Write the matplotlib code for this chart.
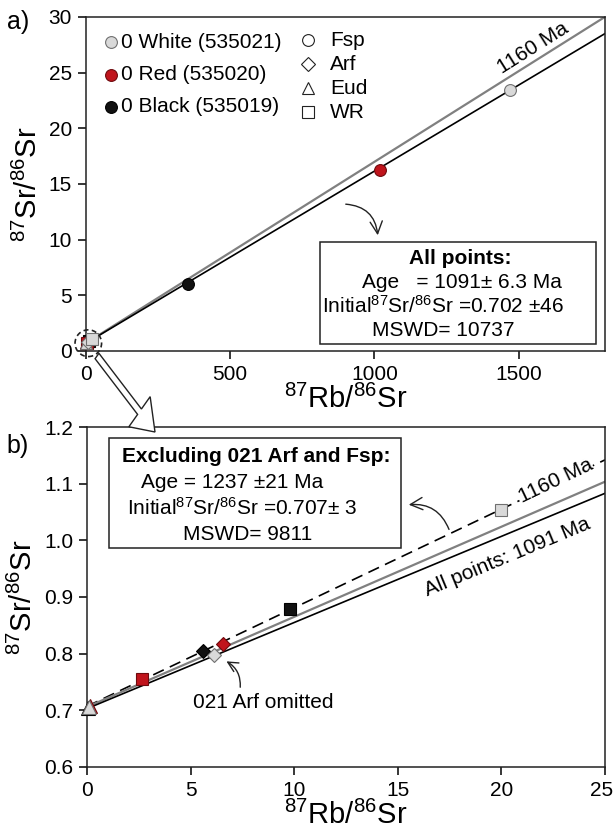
import numpy as np
import matplotlib
matplotlib.use("Agg")
import matplotlib.pyplot as plt
import matplotlib.transforms as mtransforms
from matplotlib.lines import Line2D
from matplotlib.patches import Rectangle, Ellipse, FancyArrow

plt.rcParams['font.family'] = ['Liberation Sans', 'DejaVu Sans']
plt.rcParams['mathtext.fontset'] = 'custom'
plt.rcParams['mathtext.rm'] = 'Liberation Sans'
plt.rcParams['mathtext.bf'] = 'Liberation Sans:bold'
plt.rcParams['mathtext.default'] = 'regular'

# samples and minerals
samples = ['0 White (535021)', '0 Red (535020)', '0 Black (535019)']
minerals = ['Fsp', 'Arf', 'Eud', 'WR']
face = {'white': '#d9d9d9', 'red': '#c0141c', 'black': '#111111'}
edge = {'white': '#707070', 'red': '#6e0a0e', 'black': '#000000'}

# 87Rb/86Sr, 87Sr/86Sr
fsp_x = {'white': 1470, 'red': 1020, 'black': 355}
fsp_y = {'white': 23.4, 'red': 16.3, 'black': 6.0}
arf_x = {'white': 6.15, 'red': 6.55, 'black': 5.6}
arf_y = {'white': 0.798, 'red': 0.817, 'black': 0.804}
eud_x = {'white': 0.1, 'red': 0.16, 'black': 0.05}
eud_y = {'white': 0.706, 'red': 0.708, 'black': 0.705}
wr_x = {'white': 20.0, 'red': 2.65, 'black': 9.8}
wr_y = {'white': 1.054, 'red': 0.756, 'black': 0.878}

# reference lines: intercept, slope
line_a_1160 = (0.707, 0.01628)
line_a_1091 = (0.702, 0.01545)
line_b_1237 = (0.707, 0.0174)
line_b_1160 = (0.706, 0.0159)
line_b_1091 = (0.703, 0.0152)

W, H = 614, 836
def fx(p): return p / W
def fy(p): return 1 - p / H

FS = 15

fig = plt.figure(figsize=(W / 100, H / 100), dpi=100)
ax1 = fig.add_axes([fx(86), fy(351), (605 - 86) / W, (351 - 17) / H])
ax2 = fig.add_axes([fx(87), fy(767), (605 - 87) / W, (767 - 427) / H])

for ax in (ax1, ax2):
    for s in ax.spines.values():
        s.set_linewidth(1.1)
        s.set_color('#222222')
    ax.tick_params(direction='out', length=6, width=1.1, labelsize=FS, pad=4)

order = ['black', 'red', 'white']

# ---------- panel a ----------
xx = np.array([0, 1800])
ax1.plot(xx, line_a_1160[0] + line_a_1160[1] * xx, color='#808080', lw=1.6, zorder=2)
ax1.plot(xx, line_a_1091[0] + line_a_1091[1] * xx, color='black', lw=1.2, zorder=2)
for c in order:
    ax1.plot(fsp_x[c], fsp_y[c], 'o', ms=8.5, mfc=face[c], mec=edge[c], mew=0.8, zorder=4)
    ax1.plot(eud_x[c], eud_y[c], '^', ms=9, mfc=face[c], mec=edge[c], mew=0.8, zorder=4, clip_on=False)
    ax1.plot(arf_x[c], arf_y[c], 'D', ms=7, mfc=face[c], mec=edge[c], mew=0.8, zorder=4, clip_on=False)
    ax1.plot(wr_x[c], wr_y[c], 's', ms=8.5, mfc=face[c], mec=edge[c], mew=0.8, zorder=4, clip_on=False)
ax1.set_xlim(0, 1800)
ax1.set_ylim(0, 30)
ax1.set_xticks([0, 500, 1000, 1500])
ax1.set_yticks(range(0, 31, 5))
ax1.add_patch(Ellipse((8, 0.7), 92, 2.4, fill=False, ls=(0, (3, 2)), lw=1.2,
                      color='#222222', clip_on=False, zorder=5))
ax1.text(1550, line_a_1160[0] + line_a_1160[1] * 1550 + 1.3, '1160 Ma', fontsize=FS,
         rotation=np.degrees(np.arctan(line_a_1160[1])), transform_rotates_text=True,
         rotation_mode='anchor', ha='center', va='center')
ax1.set_xlabel(r'$^{87}$Rb/$^{86}$Sr', fontsize=21, labelpad=1)
ax1.set_ylabel(r'$^{87}$Sr/$^{86}$Sr', fontsize=21, labelpad=4)

# legend (hand placed)
for i, c in enumerate(['white', 'red', 'black']):
    y = [42, 75, 107][i]
    fig.add_artist(Line2D([fx(111)], [fy(y)], marker='o', ms=8.5, mfc=face[c], mec=edge[c], mew=0.8))
    fig.text(fx(121), fy(y), samples[i], fontsize=FS, va='center', ha='left')
for i, (m, ms) in enumerate(zip(['o', 'D', '^', 's'], [8.5, 7, 9, 8.5])):
    y = [40, 64, 88, 112][i]
    fig.add_artist(Line2D([fx(308)], [fy(y)], marker=m, ms=ms, mfc='white', mec='#222222', mew=0.8))
    fig.text(fx(330), fy(y), minerals[i], fontsize=FS, va='center', ha='left')

# All points box
fig.add_artist(Rectangle((fx(320), fy(344)), (596 - 320) / W, (344 - 242) / H,
                         fill=False, lw=1.1, ec='#222222'))
fig.text(fx(460), fy(258), 'All points:', fontsize=FS, weight='bold', ha='center', va='center')
fig.text(fx(362), fy(282), 'Age   = 1091\u00b1 6.3 Ma', fontsize=FS, ha='left', va='center')
fig.text(fx(322), fy(306), r'Initial$^{87}$Sr/$^{86}$Sr =0.702 $\pm$46', fontsize=FS, ha='left', va='center')
fig.text(fx(372), fy(330), 'MSWD= 10737', fontsize=FS, ha='left', va='center')
ax1.annotate('', xy=(fx(378), fy(238)), xycoords='figure fraction',
             xytext=(fx(343), fy(204)), textcoords='figure fraction',
             arrowprops=dict(arrowstyle='->', lw=1.0, color='#222222',
                             connectionstyle='arc3,rad=-0.45', mutation_scale=22))

fig.text(fx(18), fy(22), 'a)', fontsize=18, ha='center', va='center')
fig.text(fx(18), fy(446), 'b)', fontsize=18, ha='center', va='center')

# big hollow arrow between panels
fig.add_artist(FancyArrow(fx(97), fy(356), fx(155) - fx(97), fy(432) - fy(356),
                          width=0.009, head_width=0.05, head_length=0.035,
                          length_includes_head=True, fc='white', ec='#222222', lw=1.0))

# ---------- panel b ----------
xb = np.array([0, 25])
ax2.plot(xb, line_b_1237[0] + line_b_1237[1] * xb, color='black', lw=1.2, ls=(0, (7, 4)), zorder=2)
ax2.plot(xb, line_b_1160[0] + line_b_1160[1] * xb, color='#808080', lw=1.6, zorder=2)
ax2.plot(xb, line_b_1091[0] + line_b_1091[1] * xb, color='black', lw=1.2, zorder=2)
for c in order:
    ax2.plot(eud_x[c], eud_y[c], '^', ms=10, mfc=face[c], mec=edge[c], mew=0.8, zorder=4, clip_on=False)
    ax2.plot(arf_x[c], arf_y[c], 'D', ms=7.5, mfc=face[c], mec=edge[c], mew=0.8, zorder=4)
    ax2.plot(wr_x[c], wr_y[c], 's', ms=8.5, mfc=face[c], mec=edge[c], mew=0.8, zorder=4)
ax2.set_xlim(0, 25)
ax2.set_ylim(0.6, 1.2)
ax2.set_xticks(range(0, 26, 5))
ax2.set_yticks(np.arange(0.6, 1.21, 0.1))
ax2.yaxis.set_major_formatter(plt.FormatStrFormatter('%.1f'))
ax2.set_xlabel(r'$^{87}$Rb/$^{86}$Sr', fontsize=21, labelpad=1)
ax2.set_ylabel(r'$^{87}$Sr/$^{86}$Sr', fontsize=21, labelpad=4)

# keep the last tick label inside the figure
lab = ax2.xaxis.get_major_ticks()[-1].label1
lab.set_transform(lab.get_transform() + mtransforms.ScaledTranslation(-3 / 100, 0, fig.dpi_scale_trans))

ax2.text(22.6, line_b_1237[0] + line_b_1237[1] * 22.6 + 0.004, '1160 Ma', fontsize=FS,
         rotation=np.degrees(np.arctan(line_b_1237[1])), transform_rotates_text=True,
         rotation_mode='anchor', ha='center', va='center', zorder=3,
         bbox=dict(fc='white', ec='none', pad=0.5))
ax2.text(20.3, line_b_1091[0] + line_b_1091[1] * 20.3 - 0.042, 'All points: 1091 Ma', fontsize=FS,
         rotation=np.degrees(np.arctan(line_b_1091[1])), transform_rotates_text=True,
         rotation_mode='anchor', ha='center', va='center')

fig.add_artist(Rectangle((fx(109), fy(548)), (401 - 109) / W, (548 - 438) / H,
                         fill=True, fc='white', lw=1.1, ec='#222222'))
fig.text(fx(256), fy(457), 'Excluding 021 Arf and Fsp:', fontsize=FS, weight='bold', ha='center', va='center')
fig.text(fx(141), fy(483), 'Age = 1237 \u00b121 Ma', fontsize=FS, ha='left', va='center')
fig.text(fx(127), fy(508), r'Initial$^{87}$Sr/$^{86}$Sr =0.707$\pm$ 3', fontsize=FS, ha='left', va='center')
fig.text(fx(183), fy(535), 'MSWD= 9811', fontsize=FS, ha='left', va='center')

ax2.annotate('', xy=(fx(406), fy(505)), xycoords='figure fraction',
             xytext=(fx(450), fy(532)), textcoords='figure fraction',
             arrowprops=dict(arrowstyle='->', lw=1.0, color='#222222',
                             connectionstyle='arc3,rad=0.4', mutation_scale=22))
fig.text(fx(193), fy(703), '021 Arf omitted', fontsize=FS, ha='left', va='center')
ax2.annotate('', xy=(fx(224), fy(660)), xycoords='figure fraction',
             xytext=(fx(240), fy(690)), textcoords='figure fraction',
             arrowprops=dict(arrowstyle='->', lw=1.0, color='#222222',
                             connectionstyle='arc3,rad=0.35', mutation_scale=18))

fig.savefig('out.png', dpi=100)
